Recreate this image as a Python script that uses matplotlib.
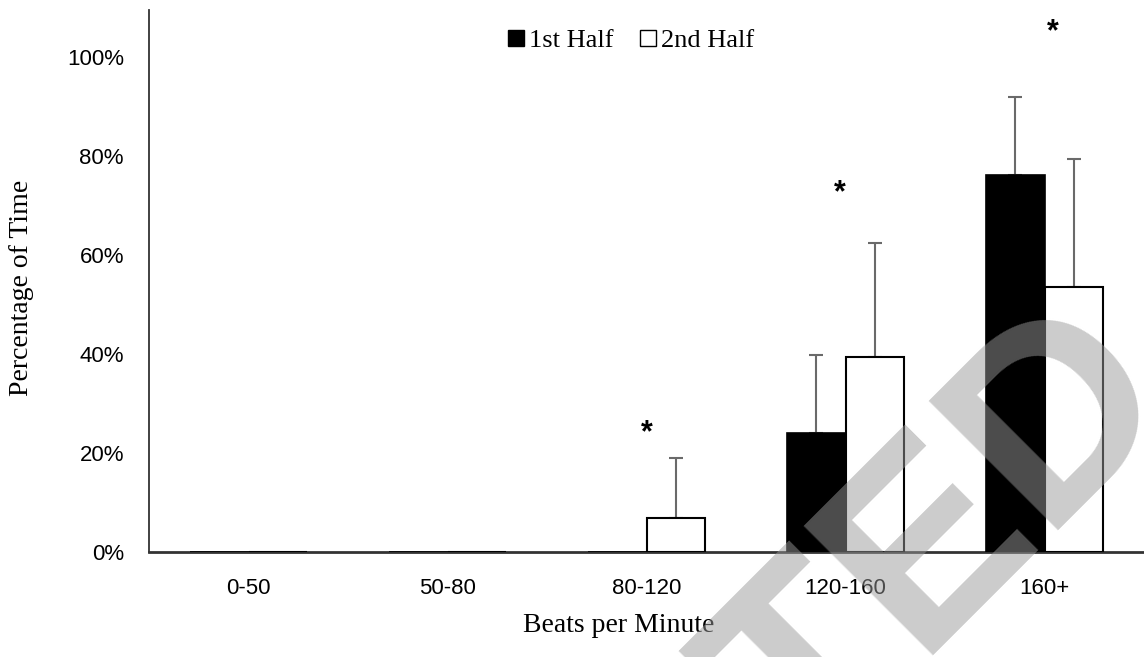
import numpy as np
import matplotlib
matplotlib.use("Agg")
import matplotlib.pyplot as plt
from matplotlib.patches import Patch

# bins and values (percent of time)
categories = ["0-50", "50-80", "80-120", "120-160", "160+"]
first_half = [0.0, 0.0, 0.0, 24.0, 76.2]
first_half_err = [0.0, 0.0, 0.0, 15.8, 15.7]
second_half = [0.0, 0.0, 6.9, 39.4, 53.5]
second_half_err = [0.0, 0.0, 12.1, 23.0, 25.9]
yticks = [0, 20, 40, 60, 80, 100]

# significance markers
star_x = [2.0, 2.97, 4.04]
star_y = [24.0, 72.5, 105.0]

SANS = "Liberation Sans"
SERIF = "Liberation Serif"

fig = plt.figure(figsize=(11.44, 6.57), dpi=100)
ax = fig.add_axes([149 / 1144, 1 - 552 / 657, 1 - 149 / 1144, (552 - 10) / 657])

x = np.arange(len(categories))
w = 0.293


def draw_series(xpos, vals, errs, face, lw):
    vals = np.asarray(vals)
    errs = np.asarray(errs)
    ax.bar(xpos, vals, w, color=face, edgecolor="black", linewidth=lw, zorder=3)
    m = errs > 0
    # only the upper half of the error bar is shown; lower cap hides under the bar edge
    ax.errorbar(xpos[m], vals[m], yerr=[np.zeros(m.sum()), errs[m]], fmt="none",
                ecolor="#6a6a6a", elinewidth=1.5, capsize=5, capthick=1.5, zorder=2)


draw_series(x - w / 2, first_half, first_half_err, "black", 1.2)
draw_series(x + w / 2, second_half, second_half_err, "white", 1.5)

for sx, sy in zip(star_x, star_y):
    ax.text(sx, sy, "*", ha="center", va="center", fontsize=22,
            fontweight="bold", family=SANS, zorder=4)

ax.set_xlim(-0.5, len(categories) - 0.5)
ax.set_ylim(0, 109.5)
ax.set_xticks(x)
ax.set_xticklabels(categories, family=SANS, fontsize=16)
ax.set_yticks(yticks)
ax.set_yticklabels([f"{t}%" for t in yticks], family=SANS, fontsize=16)
ax.tick_params(axis="both", length=0)
ax.tick_params(axis="y", pad=18)
ax.tick_params(axis="x", pad=19)

for side in ["top", "right"]:
    ax.spines[side].set_visible(False)
ax.spines["left"].set_color("#333333")
ax.spines["left"].set_linewidth(1.3)
ax.spines["bottom"].set_color("#333333")
ax.spines["bottom"].set_linewidth(2.0)

fig.text(22 / 1144, 1 - 288 / 657, "Percentage of Time", rotation=90,
         ha="center", va="center", family=SERIF, fontsize=20)
fig.text(619 / 1144, 1 - 626 / 657, "Beats per Minute",
         ha="center", va="center", family=SERIF, fontsize=20)

handles = [Patch(facecolor="black", edgecolor="black"),
           Patch(facecolor="white", edgecolor="black", linewidth=1.0)]
fig.legend(handles, ["1st Half", "2nd Half"], loc="center", ncol=2,
           bbox_to_anchor=(631 / 1144, 1 - 41 / 657), frameon=False,
           prop={"family": SERIF, "size": 19}, handlelength=0.6,
           handleheight=0.6, handletextpad=0.2, columnspacing=1.0)

# diagonal watermark, only the tail of the word is inside the page
fig.text(1180 / 1144, 1 - 402 / 657, "ACCEPTED", rotation=45,
         rotation_mode="anchor", ha="right", va="baseline",
         family=SANS, fontweight="bold", fontsize=191,
         color=(0.6, 0.6, 0.6), alpha=0.5, zorder=10)

fig.savefig("out.png", dpi=100)
